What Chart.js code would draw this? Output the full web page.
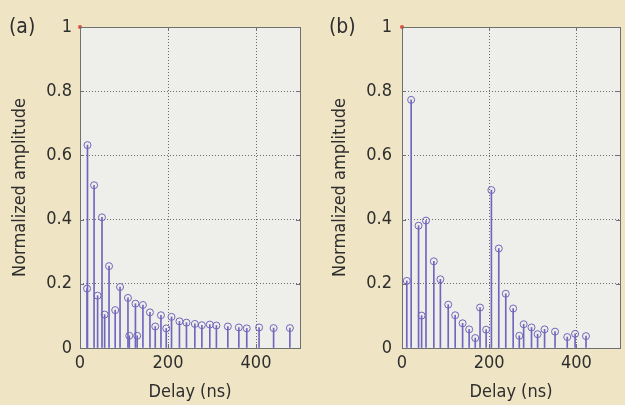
<!DOCTYPE html>
<html><head><meta charset="utf-8">
<script src="https://cdn.jsdelivr.net/npm/chart.js@4.4.1/dist/chart.umd.min.js"></script>
<style>
html,body{margin:0;padding:0;background:#efe4c4;}
#wrap{position:relative;width:625px;height:405px;overflow:hidden;background:#efe4c4;}
canvas{position:absolute;top:0;}
.lab{position:absolute;top:14px;font-family:'DejaVu Sans Condensed','DejaVu Sans',sans-serif;font-size:21px;color:#2e2e2e;}
</style></head>
<body><div id="wrap">
<canvas id="ca" width="312" height="405" style="left:0"></canvas>
<canvas id="cb" width="313" height="405" style="left:312px"></canvas>
<span class="lab" style="left:9px">(a)</span>
<span class="lab" style="left:329px">(b)</span>
</div>
<script>
// ---- data ----
const directDelay = [0];
const directAmp = [1];
const delaysA = [16, 17, 32, 40, 50, 56, 66, 80, 91, 109, 112, 126, 130, 143, 159, 171, 184, 196, 208, 226, 242, 261, 277, 295, 310, 336, 361, 379, 407, 440, 477];
const ampA = [0.185, 0.632, 0.507, 0.163, 0.407, 0.104, 0.255, 0.118, 0.19, 0.156, 0.038, 0.138, 0.038, 0.134, 0.111, 0.067, 0.102, 0.061, 0.097, 0.083, 0.079, 0.075, 0.071, 0.073, 0.07, 0.067, 0.064, 0.061, 0.064, 0.062, 0.062];
const delaysB = [11, 21, 38, 45, 55, 73, 88, 106, 122, 139, 154, 168, 179, 193, 205, 222, 238, 255, 269, 279, 297, 311, 327, 351, 379, 397, 422];
const ampB = [0.209, 0.773, 0.381, 0.101, 0.397, 0.27, 0.214, 0.135, 0.102, 0.077, 0.058, 0.031, 0.126, 0.057, 0.492, 0.31, 0.169, 0.123, 0.038, 0.074, 0.064, 0.043, 0.058, 0.051, 0.034, 0.044, 0.037];
const xTicks = [0, 200, 400];
const yTicks = [0, 0.2, 0.4, 0.6, 0.8, 1];
const yTickLabels = ['0', '0.2', '0.4', '0.6', '0.8', '1'];
const xTitle = 'Delay (ns)';
const yTitle = 'Normalized amplitude';

const FONT = "'DejaVu Sans Condensed','DejaVu Sans',sans-serif";
const STEM = '#7166bd';
const TXT = '#2e2e2e';
const AXIS = '#707070';

const framePlugin = {
  id: 'frame',
  beforeDraw(chart) {
    const {ctx, chartArea: a} = chart;
    ctx.save();
    ctx.fillStyle = '#eeeeea';
    ctx.fillRect(a.left, a.top, a.right - a.left, a.bottom - a.top);
    ctx.restore();
  },
  afterDraw(chart) {
    const {ctx, chartArea: a, scales} = chart;
    ctx.save();
    ctx.strokeStyle = AXIS;
    ctx.lineWidth = 1;
    ctx.strokeRect(Math.round(a.left) + 0.5, Math.round(a.top) + 0.5, Math.round(a.right - a.left), Math.round(a.bottom - a.top));
    ctx.beginPath();
    yTicks.forEach(v => {
      const y = Math.round(scales.y.getPixelForValue(v)) + 0.5;
      ctx.moveTo(a.left, y); ctx.lineTo(a.left + 4, y);
      ctx.moveTo(a.right, y); ctx.lineTo(a.right - 4, y);
    });
    xTicks.forEach(v => {
      const x = Math.round(scales.x.getPixelForValue(v)) + 0.5;
      ctx.moveTo(x, a.bottom); ctx.lineTo(x, a.bottom - 4);
      ctx.moveTo(x, a.top); ctx.lineTo(x, a.top + 4);
    });
    ctx.stroke();
    ctx.restore();
  }
};

function makeChart(id, delays, amps, cfg) {
  const pts = delays.map((d, i) => ({x: d, y: amps[i]}));
  const direct = directDelay.map((d, i) => ({x: d, y: directAmp[i]}));
  return new Chart(document.getElementById(id), {
    type: 'bar',
    data: {
      datasets: [
        {type: 'bar', data: pts, backgroundColor: STEM, barThickness: 1, grouped: false, order: 2},
        {type: 'scatter', data: pts, pointStyle: 'circle', pointRadius: 3.5, pointBorderWidth: 1,
         pointBorderColor: STEM, pointBackgroundColor: 'rgba(0,0,0,0)', order: 1},
        {type: 'scatter', data: direct, pointRadius: 2, pointBorderWidth: 0,
         pointBackgroundColor: '#e0503a', clip: false, order: 0}
      ]
    },
    options: {
      responsive: false,
      animation: false,
      events: [],
      layout: {padding: {top: 27, right: cfg.padRight, bottom: 0, left: 0}},
      plugins: {legend: {display: false}, tooltip: {enabled: false}},
      scales: {
        x: {
          type: 'linear', min: 0, max: 500, offset: false,
          afterBuildTicks: s => { s.ticks = xTicks.map(v => ({value: v})); },
          afterFit: s => { s.height = 57; },
          ticks: {font: {family: FONT, size: 18}, color: TXT, padding: 5, maxRotation: 0,
                  callback: v => String(v)},
          grid: {drawTicks: false, offset: false, color: c => (c.tick && (c.tick.value === 0 || c.tick.value === 500)) ? 'rgba(0,0,0,0)' : '#6a6a6a', lineWidth: 1},
          border: {display: false, dash: [1, 2]},
          title: {display: true, text: xTitle, font: {family: FONT, size: 18}, color: TXT, padding: {top: 0, bottom: 2}}
        },
        y: {
          type: 'linear', min: 0, max: 1,
          afterBuildTicks: s => { s.ticks = yTicks.map(v => ({value: v})); },
          afterFit: s => { s.width = cfg.yWidth; },
          ticks: {font: {family: FONT, size: 18}, color: TXT, padding: cfg.tickPad,
                  callback: (v, i) => yTickLabels[i]},
          grid: {drawTicks: false, color: c => (c.tick && (c.tick.value === 0 || c.tick.value === 1)) ? 'rgba(0,0,0,0)' : '#6a6a6a', lineWidth: 1},
          border: {display: false, dash: [1, 2]},
          title: {display: true, text: yTitle, font: {family: FONT, size: 18}, color: TXT, padding: {top: cfg.titlePad, bottom: 0}}
        }
      }
    },
    plugins: [framePlugin]
  });
}

makeChart('ca', delaysA, ampA, {padRight: 12, yWidth: 80, tickPad: 8, titlePad: 10});
makeChart('cb', delaysB, ampB, {padRight: 5, yWidth: 90, tickPad: 10, titlePad: 18});
</script>
</body></html>
